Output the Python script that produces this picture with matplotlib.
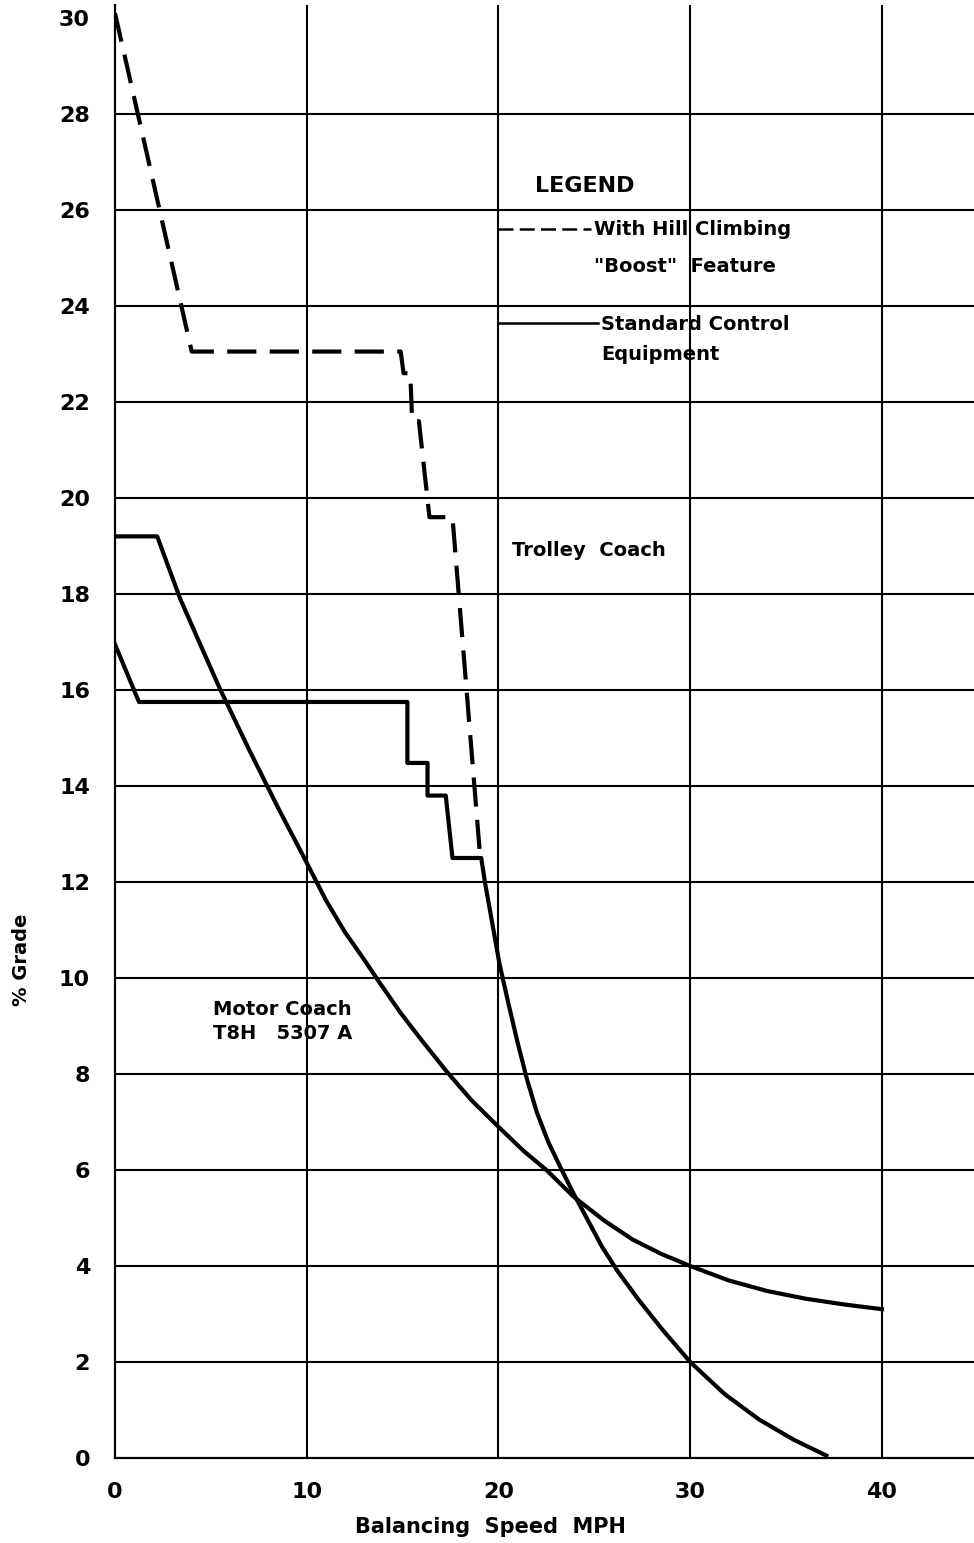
import numpy as np
import matplotlib
matplotlib.use("Agg")
import matplotlib.pyplot as plt

# ---- data ----
# trolley coach, with hill climbing "boost" (dashed)
boost_x = [0, 4.0, 14.9, 15.05, 15.4, 15.5, 15.85, 16.4, 17.6, 19.05]
boost_y = [30.1, 23.05, 23.05, 22.6, 22.6, 21.6, 21.6, 19.6, 19.6, 12.5]

# trolley coach, standard control equipment (solid)
trolley_x = [0, 1.25, 15.25, 15.25, 16.3, 16.3, 17.25, 17.6, 19.1, 19.3, 19.65,
             20.05, 20.5, 21.0, 21.5, 22.0, 22.6, 23.3, 23.9, 24.6, 25.4, 26.2,
             27.3, 28.6, 30.0, 31.8, 33.6, 35.4, 37.1]
trolley_y = [16.95, 15.75, 15.75, 14.48, 14.48, 13.8, 13.8, 12.5, 12.5, 11.98, 11.2,
             10.3, 9.5, 8.65, 7.87, 7.2, 6.58, 6.0, 5.52, 5.0, 4.4, 3.9,
             3.3, 2.65, 2.0, 1.33, 0.8, 0.38, 0.05]

# motor coach T8H 5307 A
motor_x = [0, 2.2, 3.4, 4.5, 5.5, 7.0, 8.5, 10.0, 11.0, 12.0, 13.0, 13.7, 14.9,
           16.0, 17.3, 18.6, 20.0, 21.3, 22.5, 23.9, 25.5, 27.0, 28.5, 30.0,
           32.0, 34.0, 36.0, 38.0, 40.0]
motor_y = [19.2, 19.2, 17.9, 16.9, 16.0, 14.75, 13.55, 12.4, 11.62, 10.95, 10.38,
           9.96, 9.27, 8.7, 8.05, 7.45, 6.9, 6.4, 6.0, 5.45, 4.95, 4.55, 4.25,
           4.0, 3.7, 3.48, 3.32, 3.2, 3.1]

xticks = [0, 10, 20, 30, 40]
yticks = list(range(0, 31, 2))

XMAX = 44.8
YTOP = 30.27

plt.rcParams["font.family"] = "DejaVu Sans"
plt.rcParams["font.weight"] = "bold"

fig = plt.figure(figsize=(9.74, 15.43), dpi=100)
ax = fig.add_axes([115 / 974, 85 / 1543, 1 - 115 / 974, (1458 - 5) / 1543])
ax.set_xlim(0, XMAX)
ax.set_ylim(0, YTOP)

# grid drawn by hand (no line at 30, lines run to the edges)
ax.hlines(yticks[1:-1], 0, XMAX, color="black", lw=1.5, zorder=1)
ax.vlines(xticks[1:], 0, YTOP, color="black", lw=1.5, zorder=1)

for s in ["top", "right"]:
    ax.spines[s].set_visible(False)
for s in ["left", "bottom"]:
    ax.spines[s].set_linewidth(1.6)

ax.set_xticks(xticks)
ax.set_yticks(yticks)
ax.tick_params(length=0, labelsize=16)
ax.tick_params(axis="y", pad=18)
ax.tick_params(axis="x", pad=17)
for lab in ax.get_xticklabels() + ax.get_yticklabels():
    lab.set_fontweight("bold")

# curves
ax.plot(boost_x, boost_y, color="black", lw=3.0, ls=(0, (7, 3.2)),
        solid_joinstyle="miter", zorder=3)
ax.plot(trolley_x, trolley_y, color="black", lw=3.0, zorder=3)
ax.plot(motor_x, motor_y, color="black", lw=3.0, zorder=3)

# legend drawn as in the original
ax.text(24.5, 26.5, "LEGEND", fontsize=16, ha="center", va="center")
ax.plot([20.0, 24.8], [25.6, 25.6], color="black", lw=1.8, ls=(0, (6, 2.5)))
ax.text(25.0, 25.6, "With Hill Climbing", fontsize=14, va="center")
ax.text(25.0, 24.82, '"Boost"  Feature', fontsize=14, va="center")
ax.plot([20.0, 25.2], [23.65, 23.65], color="black", lw=1.8)
ax.text(25.35, 23.62, "Standard Control", fontsize=14, va="center")
ax.text(25.35, 22.98, "Equipment", fontsize=14, va="center")

ax.text(20.7, 18.9, "Trolley  Coach", fontsize=14, va="center")
ax.text(5.1, 9.1, "Motor Coach\nT8H   5307 A", fontsize=14, va="center",
        linespacing=1.35)

fig.text(490 / 974, 1 - 1527 / 1543, "Balancing  Speed  MPH", fontsize=15,
         ha="center", va="center")
fig.text(22 / 974, 1 - 960 / 1543, "% Grade", fontsize=14, rotation=90,
         ha="center", va="center")

fig.savefig("out.png", dpi=100, facecolor="white")
